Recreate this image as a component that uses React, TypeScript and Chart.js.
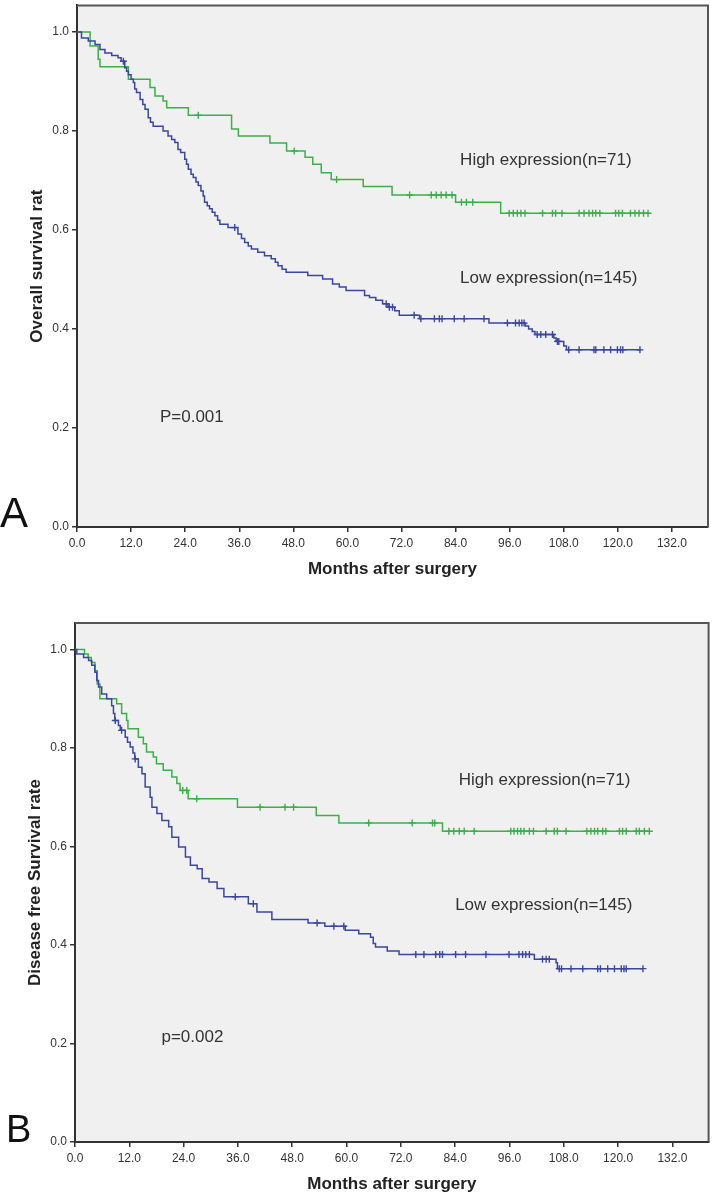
import React, { useEffect, useRef } from "react";
import { Chart, registerables } from "chart.js";

Chart.register(...registerables);

// ---------- shared axis ticks ----------
const X_TICKS = [0, 12, 24, 36, 48, 60, 72, 84, 96, 108, 120, 132];
const Y_TICKS = [0, 0.2, 0.4, 0.6, 0.8, 1.0];

// ---------- Panel A : overall survival ----------
const osHighTimes = [2.9, 4.7, 5.1, 11.4, 16.2, 17.3, 19.1, 19.9, 24.7, 34.3, 35.8, 42.8, 46.5, 50.6, 52.3, 54.2, 56.4, 63.5, 69.9, 84.0, 94.0];
const osHighSurv = [0.972, 0.945, 0.930, 0.905, 0.888, 0.871, 0.861, 0.847, 0.832, 0.804, 0.790, 0.776, 0.760, 0.747, 0.733, 0.716, 0.702, 0.688, 0.671, 0.656, 0.634];
const osHighCensor = [26.9, 48.2, 57.6, 73.8, 78.6, 79.7, 80.8, 81.9, 83.2, 85.3, 86.4, 87.8, 95.9, 96.8, 97.7, 98.5, 99.4, 103.3, 105.5, 106.2, 107.6, 111.4, 112.5, 113.6, 114.4, 115.1, 116.0, 119.5, 120.2, 121.0, 122.8, 123.8, 124.7, 125.7, 126.7];

const osLowTimes = [1.0, 2.5, 4.0, 5.1, 6.2, 7.7, 9.1, 9.8, 10.6, 11.0, 11.4, 12.0, 12.5, 12.8, 13.2, 14.0, 14.6, 15.1, 15.8, 16.3, 16.9, 19.1, 20.2, 21.0, 21.7, 22.4, 23.0, 23.9, 24.3, 24.7, 25.3, 25.8, 26.4, 26.9, 27.5, 28.0, 28.3, 28.9, 29.4, 30.0, 30.6, 31.2, 31.7, 33.5, 35.7, 36.5, 37.2, 38.0, 38.7, 40.1, 41.6, 43.1, 44.0, 44.6, 45.5, 46.4, 51.2, 54.5, 56.7, 58.2, 59.7, 63.8, 64.9, 66.3, 67.8, 69.0, 70.5, 71.5, 76.0, 91.4, 99.5, 100.2, 101.0, 101.6, 105.8, 106.3, 108.0, 108.6];
const osLowSurv = [0.988, 0.982, 0.975, 0.965, 0.958, 0.953, 0.948, 0.941, 0.928, 0.921, 0.914, 0.905, 0.898, 0.885, 0.878, 0.864, 0.854, 0.844, 0.827, 0.818, 0.810, 0.800, 0.790, 0.783, 0.777, 0.763, 0.757, 0.743, 0.733, 0.723, 0.713, 0.706, 0.697, 0.690, 0.679, 0.669, 0.656, 0.649, 0.643, 0.636, 0.629, 0.620, 0.612, 0.605, 0.592, 0.583, 0.575, 0.568, 0.562, 0.555, 0.548, 0.542, 0.535, 0.528, 0.521, 0.515, 0.508, 0.501, 0.491, 0.485, 0.478, 0.468, 0.464, 0.458, 0.451, 0.444, 0.437, 0.428, 0.421, 0.412, 0.406, 0.400, 0.395, 0.389, 0.382, 0.375, 0.366, 0.358];
const osLowCensor = [10.3, 35.0, 68.6, 69.3, 70.0, 74.8, 76.3, 79.3, 80.4, 81.0, 83.7, 85.9, 90.3, 95.5, 97.3, 98.1, 98.7, 99.2, 102.1, 102.9, 104.0, 105.5, 106.6, 106.9, 109.1, 111.4, 114.7, 115.1, 116.9, 118.4, 119.9, 120.6, 121.1, 124.9];

// ---------- Panel B : disease free survival ----------
const dfsHighTimes = [2.1, 2.9, 3.6, 4.4, 4.9, 5.5, 9.2, 10.3, 11.4, 11.7, 14.0, 15.1, 15.8, 17.3, 18.0, 19.5, 21.4, 22.5, 23.2, 25.0, 35.9, 53.3, 58.3, 81.2];
const dfsHighSurv = [0.991, 0.984, 0.974, 0.957, 0.930, 0.900, 0.890, 0.870, 0.856, 0.839, 0.822, 0.809, 0.792, 0.782, 0.768, 0.755, 0.741, 0.728, 0.714, 0.697, 0.680, 0.663, 0.648, 0.631];
const dfsHighCensor = [23.8, 24.7, 26.9, 40.9, 46.4, 48.3, 64.9, 74.5, 79.0, 79.5, 82.6, 83.7, 84.9, 86.0, 88.2, 96.3, 97.0, 97.8, 98.5, 99.2, 100.4, 101.3, 104.1, 105.9, 106.6, 108.5, 113.1, 114.0, 114.8, 115.5, 116.6, 117.3, 120.3, 121.0, 121.8, 124.0, 124.7, 125.8, 126.9];

const dfsLowTimes = [0.4, 1.9, 3.0, 3.7, 4.4, 4.8, 5.2, 5.9, 7.0, 8.1, 8.5, 8.8, 9.6, 10.0, 11.1, 11.6, 12.2, 12.8, 13.2, 14.0, 14.8, 15.5, 16.6, 17.0, 18.1, 19.2, 20.7, 21.4, 22.9, 24.4, 25.5, 27.0, 28.1, 29.6, 31.4, 32.9, 38.3, 40.2, 43.5, 51.5, 55.2, 59.7, 62.7, 65.3, 65.9, 66.4, 69.0, 71.6, 101.5, 106.3, 106.6];
const dfsLowSurv = [0.991, 0.984, 0.978, 0.968, 0.954, 0.937, 0.924, 0.910, 0.900, 0.886, 0.870, 0.856, 0.846, 0.836, 0.822, 0.812, 0.802, 0.790, 0.778, 0.761, 0.748, 0.721, 0.700, 0.680, 0.667, 0.653, 0.640, 0.619, 0.599, 0.579, 0.562, 0.555, 0.535, 0.528, 0.515, 0.498, 0.484, 0.467, 0.452, 0.445, 0.438, 0.430, 0.423, 0.416, 0.403, 0.396, 0.388, 0.381, 0.371, 0.364, 0.352];
const dfsLowCensor = [8.9, 10.3, 13.3, 35.4, 39.4, 53.5, 57.2, 59.4, 75.3, 77.1, 79.7, 80.6, 81.2, 84.1, 86.3, 90.8, 95.9, 98.1, 98.9, 99.6, 100.4, 103.3, 104.1, 104.8, 107.0, 107.5, 109.6, 112.2, 115.5, 116.1, 117.7, 119.2, 120.7, 121.3, 121.8, 125.5];

// ---------- styles ----------
const GREEN = "#3cae4a";
const BLUE = "#3a46a0";
const FONT = '"Liberation Sans", Arial, sans-serif';

function survAt(times: number[], surv: number[], t: number) {
  let s = 1;
  for (let i = 0; i < times.length; i++) {
    if (times[i] <= t) s = surv[i];
  }
  return s;
}

function buildKM(times: number[], surv: number[], censors: number[]) {
  const pts: { x: number; y: number }[] = [{ x: 0, y: 1 }];
  times.forEach((t, i) => pts.push({ x: t, y: surv[i] }));
  const last = Math.max(times[times.length - 1], ...censors);
  pts.push({ x: last, y: surv[surv.length - 1] });
  const cens = censors.map((t) => ({ x: t, y: survAt(times, surv, t) }));
  return { pts, cens };
}

type PanelCfg = {
  top: number;
  height: number;
  padTop: number;
  padRight: number;
  yAxisW: number;
  xAxisH: number;
  xTitlePad: number;
  yTitlePad: number;
  yTitle: string;
  letter: string;
  letterX: number;
  letterSize: number;
  high: { times: number[]; surv: number[]; censor: number[] };
  low: { times: number[]; surv: number[]; censor: number[] };
  notes: { text: string; x: number; y: number }[];
};

const PANELS: PanelCfg[] = [
  {
    top: 0,
    height: 600,
    padTop: 4,
    padRight: 6,
    yAxisW: 77,
    xAxisH: 73,
    xTitlePad: 20,
    yTitlePad: 27,
    yTitle: "Overall survival rat",
    letter: "A",
    letterX: 0,
    letterSize: 42,
    high: { times: osHighTimes, surv: osHighSurv, censor: osHighCensor },
    low: { times: osLowTimes, surv: osLowSurv, censor: osLowCensor },
    notes: [
      { text: "High expression(n=71)", x: 85.0, y: 0.74 },
      { text: "Low expression(n=145)", x: 85.0, y: 0.502 },
      { text: "P=0.001", x: 18.4, y: 0.222 },
    ],
  },
  {
    top: 600,
    height: 599,
    padTop: 23,
    padRight: 4,
    yAxisW: 75,
    xAxisH: 57,
    xTitlePad: 4,
    yTitlePad: 25,
    yTitle: "Disease free Survival rate",
    letter: "B",
    letterX: 6,
    letterSize: 38,
    high: { times: dfsHighTimes, surv: dfsHighSurv, censor: dfsHighCensor },
    low: { times: dfsLowTimes, surv: dfsLowSurv, censor: dfsLowCensor },
    notes: [
      { text: "High expression(n=71)", x: 84.8, y: 0.734 },
      { text: "Low expression(n=145)", x: 84.0, y: 0.481 },
      { text: "p=0.002", x: 19.1, y: 0.213 },
    ],
  },
];

function KMPanel({ cfg }: { cfg: PanelCfg }) {
  const ref = useRef<HTMLCanvasElement>(null);

  useEffect(() => {
    if (!ref.current) return;
    const hi = buildKM(cfg.high.times, cfg.high.surv, cfg.high.censor);
    const lo = buildKM(cfg.low.times, cfg.low.surv, cfg.low.censor);

    const decor = {
      id: "decor",
      beforeDraw(chart: any) {
        const { ctx, chartArea: a } = chart;
        ctx.save();
        ctx.fillStyle = "#f0f0f0";
        ctx.fillRect(a.left, a.top, a.right - a.left, a.bottom - a.top);
        ctx.restore();
      },
      afterDraw(chart: any) {
        const { ctx, chartArea: a, scales } = chart;
        ctx.save();
        ctx.strokeStyle = "#555";
        ctx.lineWidth = 2;
        ctx.beginPath();
        ctx.moveTo(a.left, a.top);
        ctx.lineTo(a.right, a.top);
        ctx.lineTo(a.right, a.bottom);
        ctx.stroke();

        ctx.fillStyle = "#333";
        ctx.font = `17px ${FONT}`;
        ctx.textAlign = "left";
        ctx.textBaseline = "middle";
        cfg.notes.forEach((n) => {
          ctx.fillText(n.text, scales.x.getPixelForValue(n.x), scales.y.getPixelForValue(n.y));
        });

        ctx.fillStyle = "#111";
        ctx.font = `${cfg.letterSize}px ${FONT}`;
        ctx.textBaseline = "alphabetic";
        ctx.fillText(cfg.letter, cfg.letterX, a.bottom);
        ctx.restore();
      },
    };

    const lineDs = (pts: any[], color: string) => ({
      data: pts,
      showLine: true,
      stepped: "before",
      borderColor: color,
      borderWidth: 1.5,
      pointRadius: 0,
      fill: false,
    });
    const censDs = (pts: any[], color: string) => ({
      data: pts,
      showLine: false,
      pointStyle: "cross",
      pointRadius: 3.5,
      borderColor: color,
      backgroundColor: color,
      borderWidth: 1.4,
    });

    const chart = new Chart(ref.current, {
      type: "scatter",
      data: {
        datasets: [lineDs(lo.pts, BLUE), censDs(lo.cens, BLUE), lineDs(hi.pts, GREEN), censDs(hi.cens, GREEN)],
      } as any,
      options: {
        responsive: false,
        animation: false,
        devicePixelRatio: 1,
        events: [],
        layout: { padding: { top: cfg.padTop, right: cfg.padRight, left: 0, bottom: 0 } },
        plugins: { legend: { display: false }, tooltip: { enabled: false } },
        scales: {
          x: {
            type: "linear",
            min: 0,
            max: 140,
            afterBuildTicks: (s: any) => {
              s.ticks = X_TICKS.map((v) => ({ value: v }));
            },
            afterFit: (s: any) => {
              s.height = cfg.xAxisH;
              s.paddingLeft = 0;
              s.paddingRight = 0;
            },
            ticks: {
              callback: (v: any) => Number(v).toFixed(1),
              font: { family: FONT, size: 12 },
              color: "#333",
              maxRotation: 0,
              autoSkip: false,
              padding: 4,
            },
            grid: { drawOnChartArea: false, drawTicks: true, tickLength: 5, color: "#333", lineWidth: 1.5 },
            border: { display: true, color: "#333", width: 2 },
            title: {
              display: true,
              text: "Months after surgery",
              font: { family: FONT, size: 17, weight: "bold" },
              color: "#222",
              padding: { top: 0, bottom: cfg.xTitlePad },
            },
          },
          y: {
            type: "linear",
            min: 0,
            max: 1.054,
            afterBuildTicks: (s: any) => {
              s.ticks = Y_TICKS.map((v) => ({ value: v }));
            },
            afterFit: (s: any) => {
              s.width = cfg.yAxisW;
              s.paddingTop = 0;
              s.paddingBottom = 0;
            },
            ticks: {
              callback: (v: any) => Number(v).toFixed(1),
              font: { family: FONT, size: 12 },
              color: "#333",
              padding: 3,
            },
            grid: { drawOnChartArea: false, drawTicks: true, tickLength: 5, color: "#333", lineWidth: 1.5 },
            border: { display: true, color: "#333", width: 2 },
            title: {
              display: true,
              text: cfg.yTitle,
              font: { family: FONT, size: 17, weight: "bold" },
              color: "#222",
              padding: { top: cfg.yTitlePad, bottom: 0 },
            },
          },
        },
      } as any,
      plugins: [decor],
    });
    return () => chart.destroy();
  }, [cfg]);

  return (
    <canvas
      ref={ref}
      width={714}
      height={cfg.height}
      style={{ position: "absolute", left: 0, top: cfg.top, width: 714, height: cfg.height }}
    />
  );
}

export default function App() {
  return (
    <div style={{ position: "absolute", left: 0, top: 0, width: 714, height: 1199, background: "#fff" }}>
      {PANELS.map((p, i) => (
        <KMPanel key={i} cfg={p} />
      ))}
    </div>
  );
}
